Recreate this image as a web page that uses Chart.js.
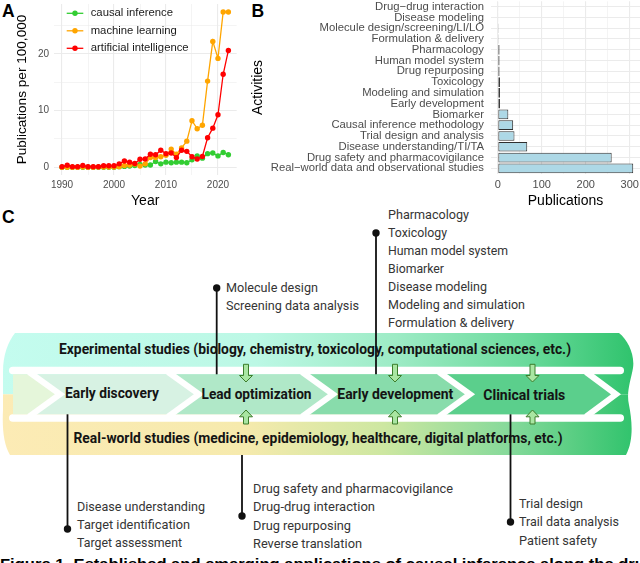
<!DOCTYPE html>
<html>
<head>
<meta charset="utf-8">
<script src="https://cdn.jsdelivr.net/npm/chart.js@4.4.1/dist/chart.umd.min.js"></script>
<style>
  html, body { margin:0; padding:0; background:#ffffff; }
  body { position:relative; width:640px; height:563px; overflow:hidden; }
  #diagram { position:absolute; left:0; top:0; }
  #boxA { position:absolute; left:0; top:0; width:248px; height:210px; }
  #boxB { position:absolute; left:230px; top:0; width:410px; height:210px; }
  .lst { font-family: Roboto, 'Liberation Sans', sans-serif; font-size:13px; fill:#353535; }
  .bld { font-family: Roboto, 'Liberation Sans', sans-serif; font-weight:700; fill:#141414; }
  .pl  { font-family: 'Liberation Sans', Arial, sans-serif; font-weight:700; font-size:17.5px; fill:#000; }
</style>
</head>
<body>
<svg id="diagram" width="640" height="563" viewBox="0 0 640 563" xmlns="http://www.w3.org/2000/svg">
  <defs>
    <linearGradient id="gTop" gradientUnits="userSpaceOnUse" x1="0" y1="0" x2="640" y2="0">
      <stop offset="0" stop-color="#C4FCEF"/>
      <stop offset="0.40" stop-color="#BCF8E5"/>
      <stop offset="0.62" stop-color="#9DEBC5"/>
      <stop offset="0.82" stop-color="#6BDA9C"/>
      <stop offset="1" stop-color="#2CC26A"/>
    </linearGradient>
    <linearGradient id="gBot" gradientUnits="userSpaceOnUse" x1="0" y1="0" x2="640" y2="0">
      <stop offset="0" stop-color="#FCEBB5"/>
      <stop offset="0.38" stop-color="#F6EAAD"/>
      <stop offset="0.60" stop-color="#CDE7A1"/>
      <stop offset="0.80" stop-color="#84D99A"/>
      <stop offset="1" stop-color="#2CC26A"/>
    </linearGradient>
    <clipPath id="bandClip">
      <path d="M 15 333 L 619 333 C 628 340 635 355 633 368 C 631 380 626 392 629 405 C 632 420 634 440 626 455 L 10 455 C 4 445 2 430 3 410 L 3 372 C 3 355 8 342 15 333 Z"/>
    </clipPath>
  </defs>

  <!-- panel letters -->
  <text class="pl" x="2" y="16.7">A</text>
  <text class="pl" x="251.5" y="16.7">B</text>
  <text class="pl" x="2" y="222.7">C</text>

  <!-- bands -->
  <g clip-path="url(#bandClip)">
    <rect x="0" y="330" width="640" height="64.3" fill="url(#gTop)"/>
    <rect x="0" y="394.3" width="640" height="65" fill="url(#gBot)"/>
  </g>
  <rect x="9" y="366.8" width="615" height="7.5" rx="3.75" fill="#ffffff"/>
  <rect x="9" y="414.3" width="615" height="7.5" rx="3.75" fill="#ffffff"/>

  <!-- chevrons -->
  <polygon points="13,374.3 29,374.3 57,394.3 29,414.3 13,414.3" fill="#E5F6DA"/>
  <polygon points="29,374.3 168,374.3 196,394.3 168,414.3 29,414.3 57,394.3" fill="#D7F2E3"/>
  <polygon points="168,374.3 302,374.3 330,394.3 302,414.3 168,414.3 196,394.3" fill="#B0E8C8"/>
  <polygon points="302,374.3 439,374.3 467,394.3 439,414.3 302,414.3 330,394.3" fill="#88DCAB"/>
  <polygon points="439,374.3 586,374.3 613,394.3 586,414.3 439,414.3 467,394.3" fill="#5BCF8C"/>
  <g fill="none" stroke="#ffffff" stroke-width="6">
    <polyline points="29,372 60,394.3 29,416.6"/>
    <polyline points="168,372 199,394.3 168,416.6"/>
    <polyline points="302,372 333,394.3 302,416.6"/>
    <polyline points="439,372 470,394.3 439,416.6"/>
    <polyline points="586,372 616,394.3 586,416.6"/>
  </g>

  <!-- band texts -->
  <text class="bld" font-size="14" x="59" y="354" textLength="512" lengthAdjust="spacingAndGlyphs">Experimental studies (biology, chemistry, toxicology, computational sciences, etc.)</text>
  <text class="bld" font-size="14" x="73.5" y="443" textLength="489" lengthAdjust="spacingAndGlyphs">Real-world studies (medicine, epidemiology,  healthcare, digital platforms, etc.)</text>

  <!-- stage labels -->
  <text class="bld" font-size="14.5" x="65" y="397.8" textLength="94" lengthAdjust="spacingAndGlyphs">Early discovery</text>
  <text class="bld" font-size="14.5" x="201.5" y="399" textLength="110" lengthAdjust="spacingAndGlyphs">Lead optimization</text>
  <text class="bld" font-size="14.5" x="337.3" y="399" textLength="116" lengthAdjust="spacingAndGlyphs">Early development</text>
  <text class="bld" font-size="14.5" x="483.3" y="400" textLength="82" lengthAdjust="spacingAndGlyphs">Clinical trials</text>

  <!-- arrows -->
  <g fill="#A9E6A2" stroke="#3D7D2C" stroke-width="1">
    <path d="M 243.5 364.3 L 248.5 364.3 L 248.5 375.5 L 252.5 375.5 L 246 382 L 239.5 375.5 L 243.5 375.5 Z"/>
    <path d="M 392.5 364.3 L 397.5 364.3 L 397.5 375.5 L 401.5 375.5 L 395 382 L 388.5 375.5 L 392.5 375.5 Z"/>
    <path d="M 530 364.3 L 535 364.3 L 535 375.5 L 539 375.5 L 532.5 382 L 526 375.5 L 530 375.5 Z"/>
    <path d="M 246 410 L 252.5 416.8 L 248.5 416.8 L 248.5 424 L 243.5 424 L 243.5 416.8 L 239.5 416.8 Z"/>
    <path d="M 395 410 L 401.5 416.8 L 397.5 416.8 L 397.5 424 L 392.5 424 L 392.5 416.8 L 388.5 416.8 Z"/>
    <path d="M 532.5 410 L 539 416.8 L 535 416.8 L 535 424 L 530 424 L 530 416.8 L 526 416.8 Z"/>
  </g>

  <!-- connector lines -->
  <g stroke="#111111" stroke-width="1.8">
    <line x1="216.7" y1="288" x2="216.7" y2="374.3"/>
    <line x1="376" y1="233" x2="376" y2="374.3"/>
    <line x1="67.5" y1="414.3" x2="67.5" y2="529"/>
    <line x1="242" y1="455" x2="242" y2="516"/>
    <line x1="510.5" y1="414.3" x2="510.5" y2="522"/>
  </g>
  <g fill="#111111">
    <circle cx="216.7" cy="288" r="3.7"/>
    <circle cx="376" cy="233" r="3.7"/>
    <circle cx="67.5" cy="529" r="3.7"/>
    <circle cx="242" cy="516" r="3.7"/>
    <circle cx="510.5" cy="522" r="3.7"/>
  </g>

  <!-- list texts -->
  <text class="lst" x="388" y="218.5" textLength="81" lengthAdjust="spacingAndGlyphs">Pharmacology</text>
  <text class="lst" x="388" y="236.5" textLength="59" lengthAdjust="spacingAndGlyphs">Toxicology</text>
  <text class="lst" x="388" y="254.5" textLength="120" lengthAdjust="spacingAndGlyphs">Human model system</text>
  <text class="lst" x="388" y="272.5" textLength="56" lengthAdjust="spacingAndGlyphs">Biomarker</text>
  <text class="lst" x="388" y="290.5" textLength="99" lengthAdjust="spacingAndGlyphs">Disease modeling</text>
  <text class="lst" x="388" y="308.5" textLength="137" lengthAdjust="spacingAndGlyphs">Modeling and simulation</text>
  <text class="lst" x="388" y="326.5" textLength="126" lengthAdjust="spacingAndGlyphs">Formulation &amp; delivery</text>

  <text class="lst" x="226" y="291.9" textLength="92" lengthAdjust="spacingAndGlyphs">Molecule design</text>
  <text class="lst" x="226" y="309.7" textLength="133" lengthAdjust="spacingAndGlyphs">Screening data analysis</text>

  <text class="lst" x="77" y="510.6" textLength="128" lengthAdjust="spacingAndGlyphs">Disease understanding</text>
  <text class="lst" x="77" y="528.6" textLength="113" lengthAdjust="spacingAndGlyphs">Target identification</text>
  <text class="lst" x="77" y="546.6" textLength="105" lengthAdjust="spacingAndGlyphs">Target assessment</text>

  <text class="lst" x="253" y="492.6" textLength="200" lengthAdjust="spacingAndGlyphs">Drug safety and pharmacovigilance</text>
  <text class="lst" x="253" y="511.2" textLength="122" lengthAdjust="spacingAndGlyphs">Drug-drug interaction</text>
  <text class="lst" x="253" y="529.5" textLength="98" lengthAdjust="spacingAndGlyphs">Drug repurposing</text>
  <text class="lst" x="253" y="547.5" textLength="109" lengthAdjust="spacingAndGlyphs">Reverse translation</text>

  <text class="lst" x="519" y="507.5" textLength="64" lengthAdjust="spacingAndGlyphs">Trial design</text>
  <text class="lst" x="519" y="526.2" textLength="100" lengthAdjust="spacingAndGlyphs">Trail data analysis</text>
  <text class="lst" x="519" y="544.5" textLength="78" lengthAdjust="spacingAndGlyphs">Patient safety</text>

  <!-- caption (cut by the frame) -->
  <text x="0" y="568.5" font-family="'Liberation Sans', Arial, sans-serif" font-weight="700" font-size="14.5" fill="#000" textLength="655" lengthAdjust="spacingAndGlyphs">Figure 1. Established and emerging applications of causal inference along the drug</text>
</svg>

<div id="boxA"><canvas id="chartA" width="248" height="210"></canvas></div>
<div id="boxB"><canvas id="chartB" width="410" height="210"></canvas></div>

<script>
// ---------------- Panel A data ----------------
const years = [1990,1991,1992,1993,1994,1995,1996,1997,1998,1999,2000,2001,2002,2003,2004,2005,2006,2007,2008,2009,2010,2011,2012,2013,2014,2015,2016,2017,2018,2019,2020,2021,2022];
const causalInference = [0,0,0,0,0,0,0,0,0,0,0,0.1,0.15,0.2,0.3,0.5,0.4,0.4,1.0,0.6,0.9,0.8,0.9,0.9,0.8,1.3,2.0,1.6,2.4,2.5,2.0,2.6,2.2];
const machineLearning = [0,0,0,0,0.05,0,0,0.05,0.05,0.05,0.05,0.1,0.3,0.4,0.55,0.2,0.6,1.7,1.7,1.85,2.1,3.2,2.3,3.4,4.6,8.2,6.8,7.4,15.2,22.2,19.2,27.4,27.4];
const artificialIntelligence = [0.1,0.35,0.1,0.1,0.3,0.1,0.1,0.1,0.25,0.25,0.25,0.6,1.1,0.9,0.65,1.4,1.45,2.3,2.2,3.0,2.4,2.5,1.7,3.0,2.8,1.85,1.45,1.9,5.2,6.9,9.25,16.4,20.6];
const seriesNames = ['causal inference', 'machine learning', 'artificial intelligence'];
const yearTicks = [1990, 2000, 2010, 2020];
const rateTicks = [0, 10, 20];

// ---------------- Panel B data ----------------
const activities = ['Drug\u2212drug interaction','Disease modeling','Molecule design/screening/LI/LO','Formulation & delivery','Pharmacology','Human model system','Drug repurposing','Toxicology','Modeling and simulation','Early development','Biomarker','Causal inference methodology','Trial design and analysis','Disease understanding/TI/TA','Drug safety and pharmacovigilance','Real\u2212world data and observational studies'];
const publications = [1,1,2,2,4,4,4,5,5,5,24,35,38,67,259,308];
const publicationTicks = [0, 100, 200, 300];

// ---------------- helpers ----------------
const FONT = "'Liberation Sans', Arial, Helvetica, sans-serif";
const GRID = '#EBEBEB';
const TICKC = '#4D4D4D';

function gridTicks(major, min, max) {
  const step = (major[1] - major[0]) / 2;
  const out = [];
  for (let v = major[0] - 2 * step; v <= major[major.length - 1] + 2 * step + 1e-9; v += step) {
    if (v >= min && v <= max) out.push({ value: v });
  }
  return out;
}
function zeroPad(s) { s.paddingTop = 0; s.paddingBottom = 0; s.paddingLeft = 0; s.paddingRight = 0; }

const ggLegend = {
  id: 'ggLegend',
  afterDraw(chart, args, opts) {
    const ctx = chart.ctx;
    ctx.save();
    opts.order.forEach((dsIndex, i) => {
      const ds = chart.data.datasets[dsIndex];
      const y = opts.y0 + i * opts.dy;
      ctx.strokeStyle = ds.borderColor;
      ctx.lineWidth = ds.borderWidth;
      ctx.beginPath(); ctx.moveTo(opts.x0, y); ctx.lineTo(opts.x0 + opts.keyW, y); ctx.stroke();
      ctx.fillStyle = ds.pointBackgroundColor;
      ctx.beginPath(); ctx.arc(opts.x0 + opts.keyW / 2, y, ds.pointRadius, 0, Math.PI * 2); ctx.fill();
      ctx.fillStyle = opts.color;
      ctx.font = opts.font;
      ctx.textBaseline = 'middle';
      ctx.textAlign = 'left';
      ctx.fillText(ds.label, opts.textX, y);
    });
    ctx.restore();
  }
};

function series(label, values, color, order) {
  return {
    label: label,
    data: years.map((x, i) => ({ x: x, y: values[i] })),
    borderColor: color,
    backgroundColor: color,
    pointBackgroundColor: color,
    pointBorderWidth: 0,
    pointRadius: 2.7,
    borderWidth: 1.3,
    tension: 0,
    order: order
  };
}

// ---------------- Chart A ----------------
const xMinA = 1988.4, xMaxA = 2023.6, yMinA = -1.37, yMaxA = 28.8;
new Chart(document.getElementById('chartA'), {
  type: 'line',
  data: {
    datasets: [
      series(seriesNames[0], causalInference, '#32CD32', 2),
      series(seriesNames[1], machineLearning, '#FFA500', 1),
      series(seriesNames[2], artificialIntelligence, '#FF0000', 0)
    ]
  },
  options: {
    responsive: false,
    animation: false,
    devicePixelRatio: 1,
    events: [],
    layout: { padding: { left: 0, right: 11.3, top: 0, bottom: 0 } },
    plugins: {
      legend: { display: false },
      tooltip: { enabled: false },
      ggLegend: { order: [0, 1, 2], x0: 66.7, keyW: 16.6, y0: 13.3, dy: 17.5, textX: 90.7, font: "11.3px " + FONT, color: '#1A1A1A' }
    },
    scales: {
      x: {
        type: 'linear', min: xMinA, max: xMaxA,
        afterBuildTicks: s => { s.ticks = gridTicks(yearTicks, xMinA, xMaxA); },
        ticks: { autoSkip: false, maxRotation: 0, padding: 4, color: TICKC, font: { family: FONT, size: 10 },
                 callback: v => yearTicks.includes(v) ? String(v) : '' },
        grid: { color: GRID, drawTicks: false, lineWidth: c => (c.tick && yearTicks.includes(c.tick.value)) ? 1.1 : 0.55 },
        border: { display: false },
        title: { display: true, text: 'Year', color: '#000', font: { family: FONT, size: 14 }, padding: { top: 0, bottom: 0.6 } },
        afterFit: s => { s.height = 35; zeroPad(s); }
      },
      y: {
        type: 'linear', min: yMinA, max: yMaxA,
        afterBuildTicks: s => { s.ticks = gridTicks(rateTicks, yMinA, yMaxA); },
        ticks: { autoSkip: false, padding: 4.7, color: TICKC, font: { family: FONT, size: 10 },
                 callback: v => rateTicks.includes(v) ? String(v) : '' },
        grid: { color: GRID, drawTicks: false, lineWidth: c => (c.tick && rateTicks.includes(c.tick.value)) ? 1.1 : 0.55 },
        border: { display: false },
        title: { display: true, text: 'Publications per 100,000', color: '#000', font: { family: FONT, size: 13.6 }, padding: { top: 13.8, bottom: 0 } },
        afterFit: s => { s.width = 53.7; zeroPad(s); }
      }
    }
  },
  plugins: [ggLegend]
});

// ---------------- Chart B ----------------
const xMinB = -15.4, xMaxB = 323.4;
new Chart(document.getElementById('chartB'), {
  type: 'bar',
  data: {
    labels: activities,
    datasets: [{
      data: publications,
      backgroundColor: '#ADD8E6',
      borderColor: '#2F2F2F',
      borderWidth: 1,
      borderSkipped: false,
      categoryPercentage: 0.9,
      barPercentage: 1
    }]
  },
  options: {
    indexAxis: 'y',
    responsive: false,
    animation: false,
    devicePixelRatio: 1,
    events: [],
    layout: { padding: { left: 0, right: 0, top: 1.3, bottom: 0 } },
    plugins: { legend: { display: false }, tooltip: { enabled: false } },
    scales: {
      x: {
        type: 'linear', min: xMinB, max: xMaxB,
        afterBuildTicks: s => { s.ticks = gridTicks(publicationTicks, xMinB, xMaxB); },
        ticks: { autoSkip: false, maxRotation: 0, padding: 4.7, color: TICKC, font: { family: FONT, size: 11 },
                 callback: v => publicationTicks.includes(v) ? String(v) : '' },
        grid: { color: GRID, drawTicks: false, lineWidth: c => (c.tick && publicationTicks.includes(c.tick.value)) ? 1.1 : 0.55 },
        border: { display: false },
        title: { display: true, text: 'Publications', color: '#000', font: { family: FONT, size: 14 }, padding: { top: 0, bottom: 0.9 } },
        afterFit: s => { s.height = 36.3; zeroPad(s); }
      },
      y: {
        type: 'category',
        ticks: { autoSkip: false, padding: 7, color: TICKC, font: { family: FONT, size: 11.3, lineHeight: 1 } },
        grid: { color: GRID, drawTicks: false, offset: false, lineWidth: 1.1 },
        border: { display: false },
        title: { display: true, text: 'Activities', color: '#000', font: { family: FONT, size: 14 }, padding: { top: 19.6, bottom: 0 } },
        afterFit: s => { s.width = 261; zeroPad(s); }
      }
    }
  }
});
</script>
</body>
</html>
